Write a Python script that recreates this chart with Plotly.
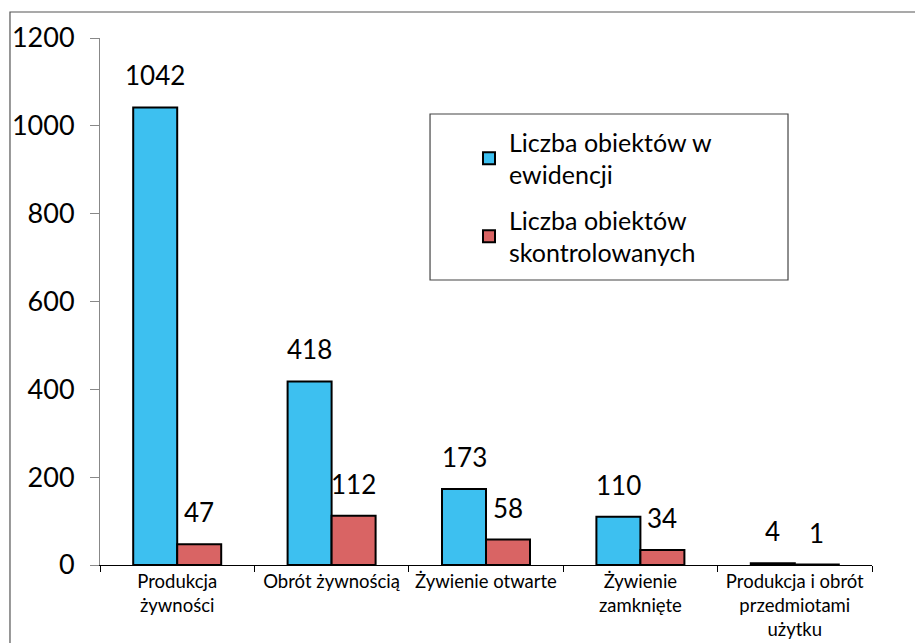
import plotly.graph_objects as go

# Data
categories = [
    "Produkcja<br>żywności",
    "Obrót żywnością",
    "Żywienie otwarte",
    "Żywienie<br>zamknięte",
    "Produkcja i obrót<br>przedmiotami<br>użytku",
]
ewidencja = [1042, 418, 173, 110, 4]
skontrolowane = [47, 112, 58, 34, 1]

series_names = ["Liczba obiektów w<br>ewidencji", "Liczba obiektów<br>skontrolowanych"]

BLUE = "#3DC0F0"
RED = "#D96464"
FONT = "Lato, 'Open Sans', sans-serif"

fig = go.Figure()

fig.add_trace(go.Bar(
    x=categories, y=ewidencja, name=series_names[0],
    marker=dict(color=BLUE, line=dict(color="black", width=2)),
    legendgroup="a",
))
fig.add_trace(go.Bar(
    x=categories, y=skontrolowane, name=series_names[1],
    marker=dict(color=RED, line=dict(color="black", width=2)),
    legendgroup="b",
))

# value labels above the bars
for vals, shift in [(ewidencja, -22), (skontrolowane, 22)]:
    for cat, v in zip(categories, vals):
        fig.add_annotation(
            x=cat, y=v, text=str(v), showarrow=False,
            xshift=shift, yanchor="bottom", yshift=14,
            font=dict(size=26, color="black", family=FONT),
        )

# outer frame and legend frame
fig.add_shape(type="rect", xref="paper", yref="paper",
              x0=-0.1166, x1=1.0635, y0=-0.3, y1=1.0493,
              line=dict(color="#555555", width=1.2), layer="below")
fig.add_shape(type="rect", xref="paper", yref="paper",
              x0=0.4275, x1=0.8912, y0=0.5408, y1=0.8558,
              line=dict(color="#444444", width=1.2))

# page body adds an 8px offset, so the figure is a little smaller
fig.update_layout(
    width=915, height=635,
    margin=dict(l=92, r=51, t=30, b=78, autoexpand=False),
    paper_bgcolor="white", plot_bgcolor="white",
    font=dict(family=FONT, color="black"),
    barmode="group", bargap=0.43, bargroupgap=0,
    showlegend=True,
    legend=dict(
        x=0.478, y=0.846, xanchor="left", yanchor="top",
        bgcolor="rgba(0,0,0,0)", borderwidth=0,
        font=dict(size=25, family=FONT),
        tracegroupgap=10,
    ),
    xaxis=dict(
        showline=True, linecolor="black", linewidth=1,
        ticks="outside", ticklen=6, tickcolor="black",
        tickson="boundaries", automargin=False,
        tickfont=dict(size=18.5, family=FONT),
    ),
    yaxis=dict(
        range=[0, 1200], dtick=200,
        showline=True, linecolor="#888888", linewidth=1,
        ticks="outside", ticklen=9, tickcolor="#888888",
        showgrid=False, zeroline=False, automargin=False,
        tickfont=dict(size=27, family=FONT),
        ticklabelstandoff=10,
    ),
)

fig.write_html("out.html")
